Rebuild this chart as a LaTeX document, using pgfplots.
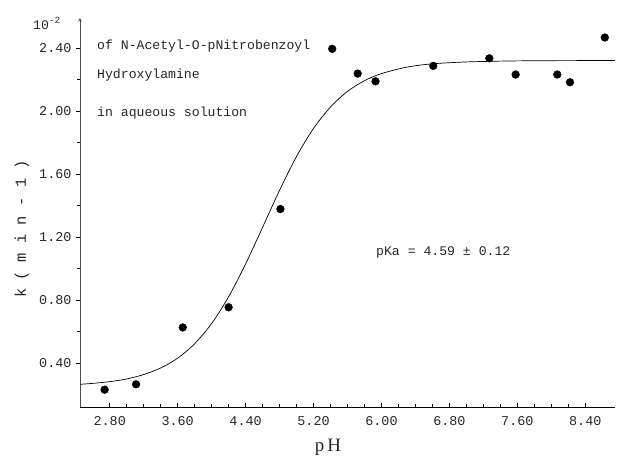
\documentclass[border=0pt]{standalone}
\usepackage{fontspec}
\setmainfont{Liberation Serif}
\setmonofont{Liberation Mono}
\usepackage{pgfplots}
\pgfplotsset{compat=1.18}
\begin{document}
\begin{tikzpicture}
\path[use as bounding box] (-80bp,-49bp) rectangle (540bp,407bp);
\begin{axis}[
  at={(0,0)}, anchor=south west,
  scale only axis, width=535bp, height=389bp,
  xmin=2.45, xmax=8.75, ymin=0.12, ymax=2.59,
  axis x line=bottom, axis y line=left,
  x axis line style={-, line width=0.9pt},
  y axis line style={-stealth, line width=0.6pt, draw=black!70},
  xtick={2.8,3.6,4.4,5.2,6.0,6.8,7.6,8.4},
  xticklabels={2.80,3.60,4.40,5.20,6.00,6.80,7.60,8.40},
  ytick={0.4,0.8,1.2,1.6,2.0,2.4},
  yticklabels={0.40,0.80,1.20,1.60,2.00,2.40},
  minor x tick num=3, minor y tick num=1,
  xtick align=inside, ytick align=outside,
  major tick length=4bp, minor tick length=2.5bp,
  tick style={black, line width=0.5pt},
  ticklabel style={font=\ttfamily\fontsize{13.5}{15}\selectfont, text=black!85},
  xticklabel style={yshift=-6bp},
  yticklabel style={xshift=-1bp},
  clip=false,
]
\addplot[black, line width=0.7pt, smooth] coordinates {
 (2.45,0.264) (2.6,0.270) (2.8,0.281) (3.0,0.298) (3.2,0.326) (3.4,0.368)
 (3.6,0.430) (3.8,0.522) (4.0,0.650) (4.2,0.820) (4.4,1.028) (4.6,1.261)
 (4.8,1.496) (5.0,1.711) (5.2,1.889) (5.4,2.025) (5.6,2.124) (5.8,2.192)
 (6.0,2.237) (6.3,2.278) (6.6,2.299) (7.0,2.311) (7.5,2.317) (8.0,2.319)
 (8.75,2.320)
};
\addplot[only marks, mark=*, mark size=3.9bp, black] coordinates {
 (2.74,0.230) (3.11,0.264) (3.66,0.625) (4.20,0.753) (4.81,1.377)
 (5.42,2.394) (5.72,2.237) (5.93,2.188) (6.61,2.286) (7.27,2.334)
 (7.58,2.231) (8.07,2.231) (8.22,2.182) (8.63,2.466)
};
\end{axis}
\begin{scope}[every node/.style={inner sep=0pt, font=\ttfamily\fontsize{13.2}{15}\selectfont, text=black!85}]
\node[anchor=west] at (17bp,361bp) {of N-Acetyl-O-pNitrobenzoyl};
\node[anchor=west] at (17bp,332bp) {Hydroxylamine};
\node[anchor=west] at (17bp,294bp) {in aqueous solution};
\node[anchor=west] at (296bp,155bp) {pKa = 4.59 ± 0.12};
\node[anchor=west] at (-47bp,384bp) {10\raisebox{6bp}{\fontsize{9.5}{9.5}\selectfont -2}};
\node[rotate=90, font=\ttfamily\fontsize{15.5}{16}\selectfont] at (-58bp,178bp) {k\hspace{8bp}( m i n - 1 )};
\node[anchor=south, font=\rmfamily\fontsize{19}{20}\selectfont] at (248bp,-48.5bp) {p\,H};
\end{scope}
\end{tikzpicture}
\end{document}
